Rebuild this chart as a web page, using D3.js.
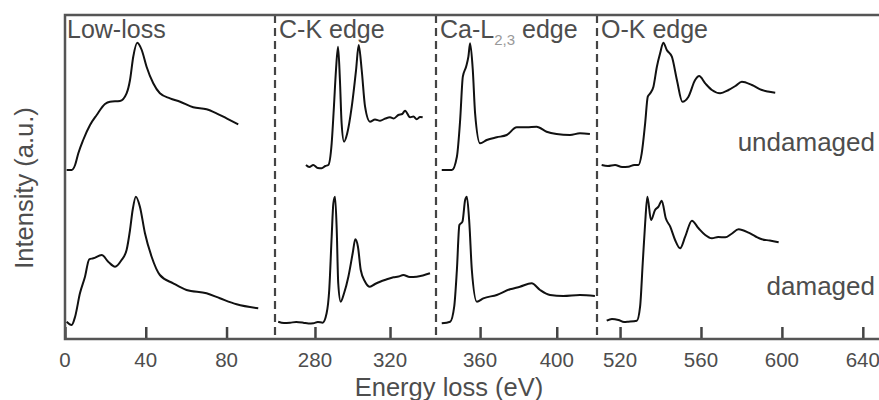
<html>
<meta charset="utf-8">
<script src="https://d3js.org/d3.v7.min.js"></script>
<style>
  body { margin: 0; background: #fff; }
  text { font-family: "Liberation Sans", Arial, sans-serif; fill: #4d4d4d; }
</style>
<div id="my_dataviz"></div>

<script>
// panels of the broken energy axis
let panelTitles = ["Low-loss", "C-K edge", "Ca-L", "O-K edge"]
let panelDomains = [[0, 104], [258.7, 344.5], [337, 421], [508.6, 648]]
let panelTicks = [[0, 40, 80], [280, 320], [360, 400], [520, 560, 600, 640]]
let rowLabels = ["undamaged", "damaged"]

// spectra, [energy (eV), intensity (a.u.)]
let lowLossUndamaged = [[0.8,169],[3.3,169],[5,174],[6.6,185.7],[9,199],[12.4,214],[15.7,224],[19.8,235],[22.3,237.3],[27.2,238],[30.5,245.7],[32.2,259],[33.8,282.3],[35.8,296.3],[38,289],[40.4,272.3],[43.7,255.7],[47,245.7],[52,240.7],[57,237.3],[63.5,231.7],[70.1,229.7],[75,225.7],[80,220.7],[85.8,214.7]]
let lowLossDamaged = [[0.8,17.3],[3.3,14],[5,22.3],[7.4,45.7],[9.9,62.3],[12,79.7],[14,80.7],[18.2,84],[21.4,77.3],[24.8,72.3],[28,79],[30.5,89],[32.2,109],[33.5,129],[35.1,142.3],[37.1,132.3],[39.6,105.7],[42.9,82.3],[47,64],[53.6,55.7],[60.2,49],[70.1,45.7],[76.7,40.7],[85,34.7],[95.7,30.7]]
let carbonUndamaged = [[275.2,174],[277,172],[279.1,174],[281.5,171],[283.6,170.7],[285.5,173],[287.1,174],[288.9,195.7],[290.1,232.3],[291.2,269],[292.3,292.3],[293.3,259],[294.2,215.7],[295.5,197.3],[297.2,205.7],[299.6,232.3],[301.9,269],[303.3,294],[304.9,269],[306.7,232.3],[309.3,217.3],[312,219.5],[314.7,218.3],[317.5,220.5],[320,221.7],[322,220.5],[324.4,224],[326.5,225],[328,228.3],[330.7,221.7],[332.5,222.5],[334.2,219.7],[336,222],[337.4,221.7]]
let carbonDamaged = [[260.4,17.3],[263.5,16],[266.7,16.3],[270,17],[273.8,16.3],[276.5,15.5],[279.1,15.7],[281.5,17],[284.1,16.3],[286.2,25.7],[287.6,49],[288.9,102.3],[289.8,135.7],[290.7,142.3],[291.6,109],[292.4,55.7],[293.7,37.3],[295.5,45.7],[297.8,62.3],[300.1,85.7],[301.5,99.7],[302.9,92.3],[304.4,69],[306.7,57.3],[309.3,52.3],[312,55],[314.7,57.3],[318,59.5],[321.8,61.7],[324.5,62.5],[327.1,64],[330.5,62],[334.2,62.3],[337.5,63.5],[341.3,65.7]]
let calciumUndamaged = [[340,169],[345.3,169],[347.9,182.3],[349.6,219],[351,262.3],[352.7,272.3],[353.9,282.3],[354.8,295.7],[356.2,269],[357.4,225.7],[360,195.7],[363.5,199],[368.7,201.7],[373.9,204],[379.1,211.7],[384.3,211.7],[389.5,212.3],[394.7,207.3],[399.9,205],[406.9,204],[412.1,205.7],[417.3,205]]
let calciumDamaged = [[340,15.7],[344.4,17.3],[346.5,32.3],[347.9,69],[349.2,114],[350.8,117.3],[352.2,139],[353.1,142.3],[354.4,115.7],[355.7,69],[358.3,37.3],[361.7,40.7],[368.7,44],[375.6,49.7],[380.8,52.3],[386.9,55.7],[391.3,49],[396.5,44],[403.4,43],[412.1,44],[419.9,43]]
let oxygenUndamaged = [[510.9,174],[514,173],[517.5,174],[521,172],[524.1,172.3],[527,174],[529.1,174],[530.7,185.7],[532.4,215.7],[533.7,242.3],[534.9,245.7],[536.5,252.3],[538.2,272.3],[539.8,285.7],[541.4,296.3],[543.1,289],[545.6,282.3],[548.1,259],[550.8,237.3],[553.8,242.3],[557.1,259],[559.1,263],[562.1,255.7],[565.4,249],[569.5,245.7],[573.6,249],[577,253],[580.2,257.3],[585.2,254],[590.1,249],[593,247.5],[596.7,246.3]]
let oxygenDamaged = [[513.4,18.3],[516,20],[519.2,19],[522,17],[524.1,17.3],[528.3,18.3],[529.9,32.3],[531.2,75.7],[532.4,115.7],[533.5,142.3],[535.3,119],[537.3,129],[539,132.3],[540.6,138.3],[542.6,120.7],[544.8,112.3],[547.2,99],[549.7,90.7],[552.2,102.3],[555.5,118.3],[558.8,110.7],[562.1,104],[565.4,100.7],[568.5,102],[572,101.7],[575,105],[578.6,109.7],[583.5,106.3],[587,102.5],[590.1,99.7],[594,98.5],[598.4,96.7]]

let panelSeries = [
  [lowLossUndamaged, lowLossDamaged],
  [carbonUndamaged, carbonDamaged],
  [calciumUndamaged, calciumDamaged],
  [oxygenUndamaged, oxygenDamaged]
]

let width = 879,
    height = 400,
    plotLeft = 65,
    plotTop = 15,
    plotBottom = 339

// pixel edges of the four panels
let edges = [plotLeft, 275, 436, 597, width]

let svg = d3.select("#my_dataviz")
  .append("svg")
    .attr("width", width)
    .attr("height", height)

let y = d3.scaleLinear()
  .domain([0, plotBottom - plotTop])
  .range([plotBottom, plotTop])

let line = d3.line()
  .curve(d3.curveMonotoneX)

panelDomains.forEach(function(dom, i) {
  let x = d3.scaleLinear()
    .domain(dom)
    .range([edges[i], edges[i + 1]])

  let g = svg.append("g")

  // inward ticks
  let axis = d3.axisTop(x)
    .tickValues(panelTicks[i])
    .tickSize(12)
    .tickFormat("")
  g.append("g")
    .attr("transform", "translate(0," + plotBottom + ")")
    .call(axis)
    .call(function(a) {
      a.select(".domain").remove()
      a.selectAll("line").attr("stroke", "#444").attr("stroke-width", 2.5)
    })

  g.selectAll(".ticklab")
    .data(panelTicks[i])
    .enter()
    .append("text")
      .attr("x", function(d) { return x(d) })
      .attr("y", 367)
      .attr("text-anchor", "middle")
      .attr("font-size", "20.5px")
      .text(function(d) { return d })

  line.x(function(d) { return x(d[0]) })
      .y(function(d) { return y(d[1]) })

  g.selectAll("path.spec")
    .data(panelSeries[i])
    .enter()
    .append("path")
      .attr("class", "spec")
      .attr("d", line)
      .attr("fill", "none")
      .attr("stroke", "#111")
      .attr("stroke-width", 2)
      .attr("stroke-linejoin", "round")

  let t = g.append("text")
    .attr("x", edges[i] + (i == 0 ? 2 : 4))
    .attr("y", 38)
    .attr("font-size", "25px")
    .text(panelTitles[i])
  if (i == 2) {
    t.append("tspan")
      .attr("font-size", "15px")
      .attr("dy", 7)
      .attr("fill", "#999")
      .text("2,3")
    t.append("tspan")
      .attr("dy", -7)
      .text(" edge")
  }
})

// panel separators
svg.selectAll(".sep")
  .data(edges.slice(1, 4))
  .enter()
  .append("line")
    .attr("x1", function(d) { return d })
    .attr("x2", function(d) { return d })
    .attr("y1", plotTop)
    .attr("y2", plotBottom)
    .attr("stroke", "#444")
    .attr("stroke-width", 2.2)
    .attr("stroke-dasharray", "8,5")

// frame
svg.append("path")
  .attr("d", "M" + width + "," + plotTop + "H" + plotLeft + "V" + plotBottom + "H" + width)
  .attr("fill", "none")
  .attr("stroke", "#555")
  .attr("stroke-width", 2.5)

svg.selectAll(".row")
  .data(rowLabels)
  .enter()
  .append("text")
    .attr("x", 875)
    .attr("y", function(d, i) { return i == 0 ? 151 : 295 })
    .attr("text-anchor", "end")
    .attr("font-size", "26px")
    .text(function(d) { return d })

svg.append("text")
  .attr("x", 449)
  .attr("y", 396)
  .attr("text-anchor", "middle")
  .attr("font-size", "25.5px")
  .text("Energy loss (eV)")

svg.append("text")
  .attr("transform", "translate(33,188) rotate(-90)")
  .attr("text-anchor", "middle")
  .attr("font-size", "25.5px")
  .text("Intensity (a.u.)")
</script>
</html>
